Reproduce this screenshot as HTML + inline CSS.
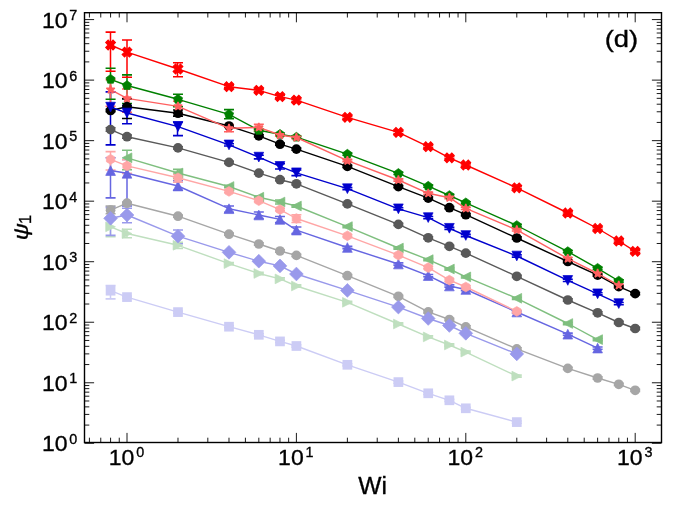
<!DOCTYPE html>
<html><head><meta charset="utf-8"><title>chart</title>
<style>html,body{margin:0;padding:0;background:#fff;}body{width:673px;height:511px;position:relative;overflow:hidden;font-family:"Liberation Sans",sans-serif;}</style></head>
<body>
<svg width="673" height="511" viewBox="0 0 673 511" style="position:absolute;left:0;top:0;will-change:transform;transform:translateZ(0)">
<rect width="673" height="511" fill="#fff"/>
<g>
<path d="M127.00 98.90V118.50M177.50 110.00V116.10M110.50 109.40V111.60M228.50 124.90V127.10M258.50 134.70V136.90M279.50 143.10V145.30M296.50 148.00V150.20M347.50 165.30V167.50M398.50 185.50V187.70M428.50 197.00V199.20M449.50 206.60V208.80M465.50 213.60V215.80M516.50 236.90V239.10M567.50 260.40V262.60M597.50 274.00V276.20M618.50 285.50V287.70M635.50 292.50V294.70" stroke="#000000" stroke-width="1.5" fill="none"/>
<path d="M110.50 127.80V131.30M127.00 135.00V138.30M177.50 146.80V149.00M228.50 161.30V163.50M258.50 172.00V174.20M279.50 178.60V180.80M296.50 182.70V184.90M347.50 202.80V205.00M398.50 223.30V225.50M428.50 236.70V238.90M449.50 245.20V247.40M465.50 252.00V254.20M516.50 275.20V277.40M567.50 298.90V301.10M597.50 311.70V313.90M618.50 321.40V323.60M635.50 327.40V329.60" stroke="#595959" stroke-width="1.5" fill="none"/>
<path d="M110.50 206.10V213.70M127.00 202.10V204.30M177.50 215.10V217.30M228.50 233.10V235.30M258.50 242.90V245.10M279.50 249.90V252.10M296.50 254.30V256.50M347.50 274.60V276.80M398.50 295.20V297.40M428.50 310.80V313.00M449.50 318.40V320.60M465.50 325.80V328.00M516.50 347.80V350.00M567.50 367.30V369.50M597.50 376.90V379.10M618.50 383.20V385.40M635.50 389.20V391.40" stroke="#a6a6a6" stroke-width="1.5" fill="none"/>
<path d="M110.50 68.20V99.20M127.00 74.90V103.50M177.50 94.30V106.80M228.50 109.60V118.80M258.50 129.20V131.40M279.50 133.20V135.40M296.50 136.10V138.30M347.50 153.10V155.30M398.50 172.30V174.50M428.50 185.10V187.30M449.50 194.40V196.60M465.50 201.70V203.90M516.50 224.40V226.60M567.50 250.50V252.70M597.50 267.20V269.40M618.50 279.90V282.10" stroke="#008000" stroke-width="1.5" fill="none"/>
<path d="M127.00 150.20V169.80M177.50 169.40V178.30M279.50 200.00V204.00M228.50 185.40V187.60M258.50 196.10V198.30M296.50 204.90V207.10M347.50 225.50V227.70M398.50 246.90V249.10M428.50 258.50V260.70M449.50 267.90V270.10M465.50 275.80V278.00M516.50 297.20V299.40M567.50 322.40V324.60M597.50 338.50V340.70" stroke="#7fbf7f" stroke-width="1.5" fill="none"/>
<path d="M110.50 219.60V236.70M127.00 229.25V237.80M177.50 242.20V248.50M228.50 262.50V264.70M258.50 272.40V274.60M279.50 277.80V280.00M296.50 284.90V287.10M347.50 301.20V303.40M398.50 322.90V325.10M428.50 335.80V338.00M449.50 343.90V346.10M465.50 351.00V353.20M516.50 375.00V377.20" stroke="#bfdfbf" stroke-width="1.5" fill="none"/>
<path d="M110.50 91.90V144.90M127.00 105.60V123.80M177.50 122.00V135.60M258.50 155.30V158.90M279.50 163.80V169.00M296.50 170.00V175.60M228.50 143.80V146.00M347.50 187.60V189.80M398.50 207.70V209.90M428.50 216.50V218.70M449.50 227.20V229.40M465.50 234.40V236.60M516.50 254.90V257.10M567.50 279.30V281.50M597.50 292.70V294.90M618.50 302.50V304.70" stroke="#0000cd" stroke-width="1.5" fill="none"/>
<path d="M110.50 157.75V197.90M127.00 159.50V206.00M177.50 180.70V190.30M228.50 206.00V212.30M258.50 212.00V218.50M279.50 216.50V222.50M296.50 227.00V233.50M347.50 246.40V248.60M398.50 262.90V265.10M428.50 274.50V276.70M449.50 284.90V287.10M465.50 288.40V290.60M516.50 310.90V313.10M567.50 333.10V335.30M597.50 347.00V349.20" stroke="#6666e1" stroke-width="1.5" fill="none"/>
<path d="M110.50 207.60V235.40M127.00 208.20V222.80M177.50 230.00V243.70M228.50 251.20V253.40M258.50 260.10V262.30M279.50 264.80V267.00M296.50 272.90V275.10M347.50 289.30V291.50M398.50 306.00V308.20M428.50 317.40V319.60M449.50 324.40V326.60M465.50 332.20V334.40M516.50 352.80V355.00" stroke="#9999eb" stroke-width="1.5" fill="none"/>
<path d="M110.50 285.50V298.90M127.00 296.00V298.20M177.50 311.00V313.20M228.50 325.60V327.80M258.50 333.70V335.90M279.50 340.30V342.50M296.50 344.90V347.10M347.50 363.70V365.90M398.50 381.00V383.20M428.50 392.20V394.40M449.50 399.20V401.40M465.50 407.20V409.40M516.50 421.00V423.20" stroke="#ccccf5" stroke-width="1.5" fill="none"/>
<path d="M110.50 32.10V71.20M127.00 40.00V77.30M177.50 62.80V76.70M228.50 85.60V87.80M258.50 89.20V91.40M279.50 95.50V97.70M296.50 99.00V101.20M347.50 116.20V118.40M398.50 131.30V133.50M428.50 145.60V147.80M449.50 156.70V158.90M465.50 163.90V166.10M516.50 186.70V188.90M567.50 211.90V214.10M597.50 227.40V229.60M618.50 239.90V242.10M635.50 250.20V252.40" stroke="#ff0000" stroke-width="1.5" fill="none"/>
<path d="M110.50 79.70V106.30M127.00 89.00V112.20M177.50 101.20V113.00M228.50 124.60V131.80M258.50 124.20V130.60M279.50 133.90V136.10M296.50 136.40V138.60M347.50 159.60V161.80M398.50 178.90V181.10M428.50 192.20V194.40M449.50 196.60V198.80M465.50 207.30V209.50M516.50 228.80V231.00M567.50 257.50V259.70M597.50 272.40V274.60M618.50 284.20V286.40" stroke="#ff6060" stroke-width="1.5" fill="none"/>
<path d="M110.50 151.60V170.00M127.00 159.80V173.40M177.50 174.30V182.30M296.50 214.70V222.50M228.50 190.30V192.50M258.50 199.60V201.80M279.50 208.50V210.70M347.50 234.70V236.90M398.50 254.00V256.20M428.50 266.50V268.70M449.50 279.00V281.20M465.50 285.90V288.10M516.50 310.30V312.50" stroke="#ffa6a6" stroke-width="1.5" fill="none"/>
<path d="M122.00 98.90h10.00M122.00 118.50h10.00M172.99 110.00h10.00M172.99 116.10h10.00M105.58 109.40h10.00M105.58 111.60h10.00M223.99 124.90h10.00M223.99 127.10h10.00M253.82 134.70h10.00M253.82 136.90h10.00M274.98 143.10h10.00M274.98 145.30h10.00M291.40 148.00h10.00M291.40 150.20h10.00M342.39 165.30h10.00M342.39 167.50h10.00M393.39 185.50h10.00M393.39 187.70h10.00M423.22 197.00h10.00M423.22 199.20h10.00M444.38 206.60h10.00M444.38 208.80h10.00M460.80 213.60h10.00M460.80 215.80h10.00M511.79 236.90h10.00M511.79 239.10h10.00M562.79 260.40h10.00M562.79 262.60h10.00M592.62 274.00h10.00M592.62 276.20h10.00M613.78 285.50h10.00M613.78 287.70h10.00M630.20 292.50h10.00M630.20 294.70h10.00" stroke="#000000" stroke-width="1.6" fill="none"/>
<path d="M105.58 127.80h10.00M105.58 131.30h10.00M122.00 135.00h10.00M122.00 138.30h10.00M172.99 146.80h10.00M172.99 149.00h10.00M223.99 161.30h10.00M223.99 163.50h10.00M253.82 172.00h10.00M253.82 174.20h10.00M274.98 178.60h10.00M274.98 180.80h10.00M291.40 182.70h10.00M291.40 184.90h10.00M342.39 202.80h10.00M342.39 205.00h10.00M393.39 223.30h10.00M393.39 225.50h10.00M423.22 236.70h10.00M423.22 238.90h10.00M444.38 245.20h10.00M444.38 247.40h10.00M460.80 252.00h10.00M460.80 254.20h10.00M511.79 275.20h10.00M511.79 277.40h10.00M562.79 298.90h10.00M562.79 301.10h10.00M592.62 311.70h10.00M592.62 313.90h10.00M613.78 321.40h10.00M613.78 323.60h10.00M630.20 327.40h10.00M630.20 329.60h10.00" stroke="#595959" stroke-width="1.6" fill="none"/>
<path d="M105.58 206.10h10.00M105.58 213.70h10.00M122.00 202.10h10.00M122.00 204.30h10.00M172.99 215.10h10.00M172.99 217.30h10.00M223.99 233.10h10.00M223.99 235.30h10.00M253.82 242.90h10.00M253.82 245.10h10.00M274.98 249.90h10.00M274.98 252.10h10.00M291.40 254.30h10.00M291.40 256.50h10.00M342.39 274.60h10.00M342.39 276.80h10.00M393.39 295.20h10.00M393.39 297.40h10.00M423.22 310.80h10.00M423.22 313.00h10.00M444.38 318.40h10.00M444.38 320.60h10.00M460.80 325.80h10.00M460.80 328.00h10.00M511.79 347.80h10.00M511.79 350.00h10.00M562.79 367.30h10.00M562.79 369.50h10.00M592.62 376.90h10.00M592.62 379.10h10.00M613.78 383.20h10.00M613.78 385.40h10.00M630.20 389.20h10.00M630.20 391.40h10.00" stroke="#a6a6a6" stroke-width="1.6" fill="none"/>
<path d="M105.58 68.20h10.00M105.58 99.20h10.00M122.00 74.90h10.00M122.00 103.50h10.00M172.99 94.30h10.00M172.99 106.80h10.00M223.99 109.60h10.00M223.99 118.80h10.00M253.82 129.20h10.00M253.82 131.40h10.00M274.98 133.20h10.00M274.98 135.40h10.00M291.40 136.10h10.00M291.40 138.30h10.00M342.39 153.10h10.00M342.39 155.30h10.00M393.39 172.30h10.00M393.39 174.50h10.00M423.22 185.10h10.00M423.22 187.30h10.00M444.38 194.40h10.00M444.38 196.60h10.00M460.80 201.70h10.00M460.80 203.90h10.00M511.79 224.40h10.00M511.79 226.60h10.00M562.79 250.50h10.00M562.79 252.70h10.00M592.62 267.20h10.00M592.62 269.40h10.00M613.78 279.90h10.00M613.78 282.10h10.00" stroke="#008000" stroke-width="1.6" fill="none"/>
<path d="M122.00 150.20h10.00M122.00 169.80h10.00M172.99 169.40h10.00M172.99 178.30h10.00M274.98 200.00h10.00M274.98 204.00h10.00M223.99 185.40h10.00M223.99 187.60h10.00M253.82 196.10h10.00M253.82 198.30h10.00M291.40 204.90h10.00M291.40 207.10h10.00M342.39 225.50h10.00M342.39 227.70h10.00M393.39 246.90h10.00M393.39 249.10h10.00M423.22 258.50h10.00M423.22 260.70h10.00M444.38 267.90h10.00M444.38 270.10h10.00M460.80 275.80h10.00M460.80 278.00h10.00M511.79 297.20h10.00M511.79 299.40h10.00M562.79 322.40h10.00M562.79 324.60h10.00M592.62 338.50h10.00M592.62 340.70h10.00" stroke="#7fbf7f" stroke-width="1.6" fill="none"/>
<path d="M105.58 219.60h10.00M105.58 236.70h10.00M122.00 229.25h10.00M122.00 237.80h10.00M172.99 242.20h10.00M172.99 248.50h10.00M223.99 262.50h10.00M223.99 264.70h10.00M253.82 272.40h10.00M253.82 274.60h10.00M274.98 277.80h10.00M274.98 280.00h10.00M291.40 284.90h10.00M291.40 287.10h10.00M342.39 301.20h10.00M342.39 303.40h10.00M393.39 322.90h10.00M393.39 325.10h10.00M423.22 335.80h10.00M423.22 338.00h10.00M444.38 343.90h10.00M444.38 346.10h10.00M460.80 351.00h10.00M460.80 353.20h10.00M511.79 375.00h10.00M511.79 377.20h10.00" stroke="#bfdfbf" stroke-width="1.6" fill="none"/>
<path d="M105.58 91.90h10.00M105.58 144.90h10.00M122.00 105.60h10.00M122.00 123.80h10.00M172.99 122.00h10.00M172.99 135.60h10.00M253.82 155.30h10.00M253.82 158.90h10.00M274.98 163.80h10.00M274.98 169.00h10.00M291.40 170.00h10.00M291.40 175.60h10.00M223.99 143.80h10.00M223.99 146.00h10.00M342.39 187.60h10.00M342.39 189.80h10.00M393.39 207.70h10.00M393.39 209.90h10.00M423.22 216.50h10.00M423.22 218.70h10.00M444.38 227.20h10.00M444.38 229.40h10.00M460.80 234.40h10.00M460.80 236.60h10.00M511.79 254.90h10.00M511.79 257.10h10.00M562.79 279.30h10.00M562.79 281.50h10.00M592.62 292.70h10.00M592.62 294.90h10.00M613.78 302.50h10.00M613.78 304.70h10.00" stroke="#0000cd" stroke-width="1.6" fill="none"/>
<path d="M105.58 157.75h10.00M105.58 197.90h10.00M122.00 159.50h10.00M122.00 206.00h10.00M172.99 180.70h10.00M172.99 190.30h10.00M223.99 206.00h10.00M223.99 212.30h10.00M253.82 212.00h10.00M253.82 218.50h10.00M274.98 216.50h10.00M274.98 222.50h10.00M291.40 227.00h10.00M291.40 233.50h10.00M342.39 246.40h10.00M342.39 248.60h10.00M393.39 262.90h10.00M393.39 265.10h10.00M423.22 274.50h10.00M423.22 276.70h10.00M444.38 284.90h10.00M444.38 287.10h10.00M460.80 288.40h10.00M460.80 290.60h10.00M511.79 310.90h10.00M511.79 313.10h10.00M562.79 333.10h10.00M562.79 335.30h10.00M592.62 347.00h10.00M592.62 349.20h10.00" stroke="#6666e1" stroke-width="1.6" fill="none"/>
<path d="M105.58 207.60h10.00M105.58 235.40h10.00M122.00 208.20h10.00M122.00 222.80h10.00M172.99 230.00h10.00M172.99 243.70h10.00M223.99 251.20h10.00M223.99 253.40h10.00M253.82 260.10h10.00M253.82 262.30h10.00M274.98 264.80h10.00M274.98 267.00h10.00M291.40 272.90h10.00M291.40 275.10h10.00M342.39 289.30h10.00M342.39 291.50h10.00M393.39 306.00h10.00M393.39 308.20h10.00M423.22 317.40h10.00M423.22 319.60h10.00M444.38 324.40h10.00M444.38 326.60h10.00M460.80 332.20h10.00M460.80 334.40h10.00M511.79 352.80h10.00M511.79 355.00h10.00" stroke="#9999eb" stroke-width="1.6" fill="none"/>
<path d="M105.58 285.50h10.00M105.58 298.90h10.00M122.00 296.00h10.00M122.00 298.20h10.00M172.99 311.00h10.00M172.99 313.20h10.00M223.99 325.60h10.00M223.99 327.80h10.00M253.82 333.70h10.00M253.82 335.90h10.00M274.98 340.30h10.00M274.98 342.50h10.00M291.40 344.90h10.00M291.40 347.10h10.00M342.39 363.70h10.00M342.39 365.90h10.00M393.39 381.00h10.00M393.39 383.20h10.00M423.22 392.20h10.00M423.22 394.40h10.00M444.38 399.20h10.00M444.38 401.40h10.00M460.80 407.20h10.00M460.80 409.40h10.00M511.79 421.00h10.00M511.79 423.20h10.00" stroke="#ccccf5" stroke-width="1.6" fill="none"/>
<path d="M105.58 32.10h10.00M105.58 71.20h10.00M122.00 40.00h10.00M122.00 77.30h10.00M172.99 62.80h10.00M172.99 76.70h10.00M223.99 85.60h10.00M223.99 87.80h10.00M253.82 89.20h10.00M253.82 91.40h10.00M274.98 95.50h10.00M274.98 97.70h10.00M291.40 99.00h10.00M291.40 101.20h10.00M342.39 116.20h10.00M342.39 118.40h10.00M393.39 131.30h10.00M393.39 133.50h10.00M423.22 145.60h10.00M423.22 147.80h10.00M444.38 156.70h10.00M444.38 158.90h10.00M460.80 163.90h10.00M460.80 166.10h10.00M511.79 186.70h10.00M511.79 188.90h10.00M562.79 211.90h10.00M562.79 214.10h10.00M592.62 227.40h10.00M592.62 229.60h10.00M613.78 239.90h10.00M613.78 242.10h10.00M630.20 250.20h10.00M630.20 252.40h10.00" stroke="#ff0000" stroke-width="1.6" fill="none"/>
<path d="M105.58 79.70h10.00M105.58 106.30h10.00M122.00 89.00h10.00M122.00 112.20h10.00M172.99 101.20h10.00M172.99 113.00h10.00M223.99 124.60h10.00M223.99 131.80h10.00M253.82 124.20h10.00M253.82 130.60h10.00M274.98 133.90h10.00M274.98 136.10h10.00M291.40 136.40h10.00M291.40 138.60h10.00M342.39 159.60h10.00M342.39 161.80h10.00M393.39 178.90h10.00M393.39 181.10h10.00M423.22 192.20h10.00M423.22 194.40h10.00M444.38 196.60h10.00M444.38 198.80h10.00M460.80 207.30h10.00M460.80 209.50h10.00M511.79 228.80h10.00M511.79 231.00h10.00M562.79 257.50h10.00M562.79 259.70h10.00M592.62 272.40h10.00M592.62 274.60h10.00M613.78 284.20h10.00M613.78 286.40h10.00" stroke="#ff6060" stroke-width="1.6" fill="none"/>
<path d="M105.58 151.60h10.00M105.58 170.00h10.00M122.00 159.80h10.00M122.00 173.40h10.00M172.99 174.30h10.00M172.99 182.30h10.00M291.40 214.70h10.00M291.40 222.50h10.00M223.99 190.30h10.00M223.99 192.50h10.00M253.82 199.60h10.00M253.82 201.80h10.00M274.98 208.50h10.00M274.98 210.70h10.00M342.39 234.70h10.00M342.39 236.90h10.00M393.39 254.00h10.00M393.39 256.20h10.00M423.22 266.50h10.00M423.22 268.70h10.00M444.38 279.00h10.00M444.38 281.20h10.00M460.80 285.90h10.00M460.80 288.10h10.00M511.79 310.30h10.00M511.79 312.50h10.00" stroke="#ffa6a6" stroke-width="1.6" fill="none"/>
<g><polyline fill="none" stroke="#000000" stroke-width="1.4" stroke-linejoin="round" points="110.58,110.50 127.00,106.70 177.99,113.20 228.99,126.00 258.82,135.80 279.98,144.20 296.40,149.10 347.39,166.40 398.39,186.60 428.22,198.10 449.38,207.70 465.80,214.70 516.79,238.00 567.79,261.50 597.62,275.10 618.78,286.60 635.20,293.60"/><circle cx="110.58" cy="110.50" r="4.85" fill="#000000"/><circle cx="127.00" cy="106.70" r="4.85" fill="#000000"/><circle cx="177.99" cy="113.20" r="4.85" fill="#000000"/><circle cx="228.99" cy="126.00" r="4.85" fill="#000000"/><circle cx="258.82" cy="135.80" r="4.85" fill="#000000"/><circle cx="279.98" cy="144.20" r="4.85" fill="#000000"/><circle cx="296.40" cy="149.10" r="4.85" fill="#000000"/><circle cx="347.39" cy="166.40" r="4.85" fill="#000000"/><circle cx="398.39" cy="186.60" r="4.85" fill="#000000"/><circle cx="428.22" cy="198.10" r="4.85" fill="#000000"/><circle cx="449.38" cy="207.70" r="4.85" fill="#000000"/><circle cx="465.80" cy="214.70" r="4.85" fill="#000000"/><circle cx="516.79" cy="238.00" r="4.85" fill="#000000"/><circle cx="567.79" cy="261.50" r="4.85" fill="#000000"/><circle cx="597.62" cy="275.10" r="4.85" fill="#000000"/><circle cx="618.78" cy="286.60" r="4.85" fill="#000000"/><circle cx="635.20" cy="293.60" r="4.85" fill="#000000"/></g>
<g><polyline fill="none" stroke="#595959" stroke-width="1.4" stroke-linejoin="round" points="110.58,129.60 127.00,136.70 177.99,147.90 228.99,162.40 258.82,173.10 279.98,179.70 296.40,183.80 347.39,203.90 398.39,224.40 428.22,237.80 449.38,246.30 465.80,253.10 516.79,276.30 567.79,300.00 597.62,312.80 618.78,322.50 635.20,328.50"/><circle cx="110.58" cy="129.60" r="4.85" fill="#595959"/><circle cx="127.00" cy="136.70" r="4.85" fill="#595959"/><circle cx="177.99" cy="147.90" r="4.85" fill="#595959"/><circle cx="228.99" cy="162.40" r="4.85" fill="#595959"/><circle cx="258.82" cy="173.10" r="4.85" fill="#595959"/><circle cx="279.98" cy="179.70" r="4.85" fill="#595959"/><circle cx="296.40" cy="183.80" r="4.85" fill="#595959"/><circle cx="347.39" cy="203.90" r="4.85" fill="#595959"/><circle cx="398.39" cy="224.40" r="4.85" fill="#595959"/><circle cx="428.22" cy="237.80" r="4.85" fill="#595959"/><circle cx="449.38" cy="246.30" r="4.85" fill="#595959"/><circle cx="465.80" cy="253.10" r="4.85" fill="#595959"/><circle cx="516.79" cy="276.30" r="4.85" fill="#595959"/><circle cx="567.79" cy="300.00" r="4.85" fill="#595959"/><circle cx="597.62" cy="312.80" r="4.85" fill="#595959"/><circle cx="618.78" cy="322.50" r="4.85" fill="#595959"/><circle cx="635.20" cy="328.50" r="4.85" fill="#595959"/></g>
<g><polyline fill="none" stroke="#a6a6a6" stroke-width="1.4" stroke-linejoin="round" points="110.58,210.20 127.00,203.20 177.99,216.20 228.99,234.20 258.82,244.00 279.98,251.00 296.40,255.40 347.39,275.70 398.39,296.30 428.22,311.90 449.38,319.50 465.80,326.90 516.79,348.90 567.79,368.40 597.62,378.00 618.78,384.30 635.20,390.30"/><circle cx="110.58" cy="210.20" r="4.85" fill="#a6a6a6"/><circle cx="127.00" cy="203.20" r="4.85" fill="#a6a6a6"/><circle cx="177.99" cy="216.20" r="4.85" fill="#a6a6a6"/><circle cx="228.99" cy="234.20" r="4.85" fill="#a6a6a6"/><circle cx="258.82" cy="244.00" r="4.85" fill="#a6a6a6"/><circle cx="279.98" cy="251.00" r="4.85" fill="#a6a6a6"/><circle cx="296.40" cy="255.40" r="4.85" fill="#a6a6a6"/><circle cx="347.39" cy="275.70" r="4.85" fill="#a6a6a6"/><circle cx="398.39" cy="296.30" r="4.85" fill="#a6a6a6"/><circle cx="428.22" cy="311.90" r="4.85" fill="#a6a6a6"/><circle cx="449.38" cy="319.50" r="4.85" fill="#a6a6a6"/><circle cx="465.80" cy="326.90" r="4.85" fill="#a6a6a6"/><circle cx="516.79" cy="348.90" r="4.85" fill="#a6a6a6"/><circle cx="567.79" cy="368.40" r="4.85" fill="#a6a6a6"/><circle cx="597.62" cy="378.00" r="4.85" fill="#a6a6a6"/><circle cx="618.78" cy="384.30" r="4.85" fill="#a6a6a6"/><circle cx="635.20" cy="390.30" r="4.85" fill="#a6a6a6"/></g>
<g><polyline fill="none" stroke="#008000" stroke-width="1.4" stroke-linejoin="round" points="110.58,79.30 127.00,85.50 177.99,99.30 228.99,114.40 258.82,130.30 279.98,134.30 296.40,137.20 347.39,154.20 398.39,173.40 428.22,186.20 449.38,195.50 465.80,202.80 516.79,225.50 567.79,251.60 597.62,268.30 618.78,281.00"/><polygon points="110.58,74.45 115.20,77.80 113.43,83.22 107.73,83.22 105.97,77.80" fill="#008000" stroke="#008000" stroke-width="0.7" stroke-linejoin="miter"/><polygon points="127.00,80.65 131.61,84.00 129.85,89.42 124.15,89.42 122.39,84.00" fill="#008000" stroke="#008000" stroke-width="0.7" stroke-linejoin="miter"/><polygon points="177.99,94.45 182.61,97.80 180.85,103.22 175.14,103.22 173.38,97.80" fill="#008000" stroke="#008000" stroke-width="0.7" stroke-linejoin="miter"/><polygon points="228.99,109.55 233.60,112.90 231.84,118.32 226.14,118.32 224.38,112.90" fill="#008000" stroke="#008000" stroke-width="0.7" stroke-linejoin="miter"/><polygon points="258.82,125.45 263.43,128.80 261.67,134.22 255.97,134.22 254.21,128.80" fill="#008000" stroke="#008000" stroke-width="0.7" stroke-linejoin="miter"/><polygon points="279.98,129.45 284.60,132.80 282.83,138.22 277.13,138.22 275.37,132.80" fill="#008000" stroke="#008000" stroke-width="0.7" stroke-linejoin="miter"/><polygon points="296.40,132.35 301.01,135.70 299.25,141.12 293.55,141.12 291.79,135.70" fill="#008000" stroke="#008000" stroke-width="0.7" stroke-linejoin="miter"/><polygon points="347.39,149.35 352.01,152.70 350.25,158.12 344.54,158.12 342.78,152.70" fill="#008000" stroke="#008000" stroke-width="0.7" stroke-linejoin="miter"/><polygon points="398.39,168.55 403.00,171.90 401.24,177.32 395.54,177.32 393.78,171.90" fill="#008000" stroke="#008000" stroke-width="0.7" stroke-linejoin="miter"/><polygon points="428.22,181.35 432.83,184.70 431.07,190.12 425.37,190.12 423.61,184.70" fill="#008000" stroke="#008000" stroke-width="0.7" stroke-linejoin="miter"/><polygon points="449.38,190.65 454.00,194.00 452.23,199.42 446.53,199.42 444.77,194.00" fill="#008000" stroke="#008000" stroke-width="0.7" stroke-linejoin="miter"/><polygon points="465.80,197.95 470.41,201.30 468.65,206.72 462.95,206.72 461.19,201.30" fill="#008000" stroke="#008000" stroke-width="0.7" stroke-linejoin="miter"/><polygon points="516.79,220.65 521.41,224.00 519.65,229.42 513.94,229.42 512.18,224.00" fill="#008000" stroke="#008000" stroke-width="0.7" stroke-linejoin="miter"/><polygon points="567.79,246.75 572.40,250.10 570.64,255.52 564.94,255.52 563.18,250.10" fill="#008000" stroke="#008000" stroke-width="0.7" stroke-linejoin="miter"/><polygon points="597.62,263.45 602.23,266.80 600.47,272.22 594.77,272.22 593.01,266.80" fill="#008000" stroke="#008000" stroke-width="0.7" stroke-linejoin="miter"/><polygon points="618.78,276.15 623.40,279.50 621.63,284.92 615.93,284.92 614.17,279.50" fill="#008000" stroke="#008000" stroke-width="0.7" stroke-linejoin="miter"/></g>
<g><polyline fill="none" stroke="#7fbf7f" stroke-width="1.4" stroke-linejoin="round" points="127.00,157.80 177.99,173.00 228.99,186.50 258.82,197.20 279.98,202.00 296.40,206.00 347.39,226.60 398.39,248.00 428.22,259.60 449.38,269.00 465.80,276.90 516.79,298.30 567.79,323.50 597.62,339.60"/><polygon points="122.15,157.80 131.85,152.95 131.85,162.65" fill="#7fbf7f" stroke="#7fbf7f" stroke-width="0.7" stroke-linejoin="miter"/><polygon points="173.14,173.00 182.84,168.15 182.84,177.85" fill="#7fbf7f" stroke="#7fbf7f" stroke-width="0.7" stroke-linejoin="miter"/><polygon points="224.14,186.50 233.84,181.65 233.84,191.35" fill="#7fbf7f" stroke="#7fbf7f" stroke-width="0.7" stroke-linejoin="miter"/><polygon points="253.97,197.20 263.67,192.35 263.67,202.05" fill="#7fbf7f" stroke="#7fbf7f" stroke-width="0.7" stroke-linejoin="miter"/><polygon points="275.13,202.00 284.83,197.15 284.83,206.85" fill="#7fbf7f" stroke="#7fbf7f" stroke-width="0.7" stroke-linejoin="miter"/><polygon points="291.55,206.00 301.25,201.15 301.25,210.85" fill="#7fbf7f" stroke="#7fbf7f" stroke-width="0.7" stroke-linejoin="miter"/><polygon points="342.54,226.60 352.24,221.75 352.24,231.45" fill="#7fbf7f" stroke="#7fbf7f" stroke-width="0.7" stroke-linejoin="miter"/><polygon points="393.54,248.00 403.24,243.15 403.24,252.85" fill="#7fbf7f" stroke="#7fbf7f" stroke-width="0.7" stroke-linejoin="miter"/><polygon points="423.37,259.60 433.07,254.75 433.07,264.45" fill="#7fbf7f" stroke="#7fbf7f" stroke-width="0.7" stroke-linejoin="miter"/><polygon points="444.53,269.00 454.23,264.15 454.23,273.85" fill="#7fbf7f" stroke="#7fbf7f" stroke-width="0.7" stroke-linejoin="miter"/><polygon points="460.95,276.90 470.65,272.05 470.65,281.75" fill="#7fbf7f" stroke="#7fbf7f" stroke-width="0.7" stroke-linejoin="miter"/><polygon points="511.94,298.30 521.64,293.45 521.64,303.15" fill="#7fbf7f" stroke="#7fbf7f" stroke-width="0.7" stroke-linejoin="miter"/><polygon points="562.94,323.50 572.64,318.65 572.64,328.35" fill="#7fbf7f" stroke="#7fbf7f" stroke-width="0.7" stroke-linejoin="miter"/><polygon points="592.77,339.60 602.47,334.75 602.47,344.45" fill="#7fbf7f" stroke="#7fbf7f" stroke-width="0.7" stroke-linejoin="miter"/></g>
<g><polyline fill="none" stroke="#bfdfbf" stroke-width="1.4" stroke-linejoin="round" points="110.58,226.80 127.00,233.50 177.99,245.30 228.99,263.60 258.82,273.50 279.98,278.90 296.40,286.00 347.39,302.30 398.39,324.00 428.22,336.90 449.38,345.00 465.80,352.10 516.79,376.10"/><polygon points="115.43,226.80 105.73,221.95 105.73,231.65" fill="#bfdfbf" stroke="#bfdfbf" stroke-width="0.7" stroke-linejoin="miter"/><polygon points="131.85,233.50 122.15,228.65 122.15,238.35" fill="#bfdfbf" stroke="#bfdfbf" stroke-width="0.7" stroke-linejoin="miter"/><polygon points="182.84,245.30 173.14,240.45 173.14,250.15" fill="#bfdfbf" stroke="#bfdfbf" stroke-width="0.7" stroke-linejoin="miter"/><polygon points="233.84,263.60 224.14,258.75 224.14,268.45" fill="#bfdfbf" stroke="#bfdfbf" stroke-width="0.7" stroke-linejoin="miter"/><polygon points="263.67,273.50 253.97,268.65 253.97,278.35" fill="#bfdfbf" stroke="#bfdfbf" stroke-width="0.7" stroke-linejoin="miter"/><polygon points="284.83,278.90 275.13,274.05 275.13,283.75" fill="#bfdfbf" stroke="#bfdfbf" stroke-width="0.7" stroke-linejoin="miter"/><polygon points="301.25,286.00 291.55,281.15 291.55,290.85" fill="#bfdfbf" stroke="#bfdfbf" stroke-width="0.7" stroke-linejoin="miter"/><polygon points="352.24,302.30 342.54,297.45 342.54,307.15" fill="#bfdfbf" stroke="#bfdfbf" stroke-width="0.7" stroke-linejoin="miter"/><polygon points="403.24,324.00 393.54,319.15 393.54,328.85" fill="#bfdfbf" stroke="#bfdfbf" stroke-width="0.7" stroke-linejoin="miter"/><polygon points="433.07,336.90 423.37,332.05 423.37,341.75" fill="#bfdfbf" stroke="#bfdfbf" stroke-width="0.7" stroke-linejoin="miter"/><polygon points="454.23,345.00 444.53,340.15 444.53,349.85" fill="#bfdfbf" stroke="#bfdfbf" stroke-width="0.7" stroke-linejoin="miter"/><polygon points="470.65,352.10 460.95,347.25 460.95,356.95" fill="#bfdfbf" stroke="#bfdfbf" stroke-width="0.7" stroke-linejoin="miter"/><polygon points="521.64,376.10 511.94,371.25 511.94,380.95" fill="#bfdfbf" stroke="#bfdfbf" stroke-width="0.7" stroke-linejoin="miter"/></g>
<g><polyline fill="none" stroke="#0000cd" stroke-width="1.4" stroke-linejoin="round" points="110.58,107.10 127.00,113.00 177.99,126.60 228.99,144.90 258.82,157.10 279.98,166.40 296.40,172.80 347.39,188.70 398.39,208.80 428.22,217.60 449.38,228.30 465.80,235.50 516.79,256.00 567.79,280.40 597.62,293.80 618.78,303.60"/><polygon points="110.58,111.95 105.73,102.25 115.43,102.25" fill="#0000cd" stroke="#0000cd" stroke-width="0.7" stroke-linejoin="miter"/><polygon points="127.00,117.85 122.15,108.15 131.85,108.15" fill="#0000cd" stroke="#0000cd" stroke-width="0.7" stroke-linejoin="miter"/><polygon points="177.99,131.45 173.14,121.75 182.84,121.75" fill="#0000cd" stroke="#0000cd" stroke-width="0.7" stroke-linejoin="miter"/><polygon points="228.99,149.75 224.14,140.05 233.84,140.05" fill="#0000cd" stroke="#0000cd" stroke-width="0.7" stroke-linejoin="miter"/><polygon points="258.82,161.95 253.97,152.25 263.67,152.25" fill="#0000cd" stroke="#0000cd" stroke-width="0.7" stroke-linejoin="miter"/><polygon points="279.98,171.25 275.13,161.55 284.83,161.55" fill="#0000cd" stroke="#0000cd" stroke-width="0.7" stroke-linejoin="miter"/><polygon points="296.40,177.65 291.55,167.95 301.25,167.95" fill="#0000cd" stroke="#0000cd" stroke-width="0.7" stroke-linejoin="miter"/><polygon points="347.39,193.55 342.54,183.85 352.24,183.85" fill="#0000cd" stroke="#0000cd" stroke-width="0.7" stroke-linejoin="miter"/><polygon points="398.39,213.65 393.54,203.95 403.24,203.95" fill="#0000cd" stroke="#0000cd" stroke-width="0.7" stroke-linejoin="miter"/><polygon points="428.22,222.45 423.37,212.75 433.07,212.75" fill="#0000cd" stroke="#0000cd" stroke-width="0.7" stroke-linejoin="miter"/><polygon points="449.38,233.15 444.53,223.45 454.23,223.45" fill="#0000cd" stroke="#0000cd" stroke-width="0.7" stroke-linejoin="miter"/><polygon points="465.80,240.35 460.95,230.65 470.65,230.65" fill="#0000cd" stroke="#0000cd" stroke-width="0.7" stroke-linejoin="miter"/><polygon points="516.79,260.85 511.94,251.15 521.64,251.15" fill="#0000cd" stroke="#0000cd" stroke-width="0.7" stroke-linejoin="miter"/><polygon points="567.79,285.25 562.94,275.55 572.64,275.55" fill="#0000cd" stroke="#0000cd" stroke-width="0.7" stroke-linejoin="miter"/><polygon points="597.62,298.65 592.77,288.95 602.47,288.95" fill="#0000cd" stroke="#0000cd" stroke-width="0.7" stroke-linejoin="miter"/><polygon points="618.78,308.45 613.93,298.75 623.63,298.75" fill="#0000cd" stroke="#0000cd" stroke-width="0.7" stroke-linejoin="miter"/></g>
<g><polyline fill="none" stroke="#6666e1" stroke-width="1.4" stroke-linejoin="round" points="110.58,170.55 127.00,173.30 177.99,186.00 228.99,208.70 258.82,215.00 279.98,219.40 296.40,230.10 347.39,247.50 398.39,264.00 428.22,275.60 449.38,286.00 465.80,289.50 516.79,312.00 567.79,334.20 597.62,348.10"/><polygon points="110.58,165.70 105.73,175.40 115.43,175.40" fill="#6666e1" stroke="#6666e1" stroke-width="0.7" stroke-linejoin="miter"/><polygon points="127.00,168.45 122.15,178.15 131.85,178.15" fill="#6666e1" stroke="#6666e1" stroke-width="0.7" stroke-linejoin="miter"/><polygon points="177.99,181.15 173.14,190.85 182.84,190.85" fill="#6666e1" stroke="#6666e1" stroke-width="0.7" stroke-linejoin="miter"/><polygon points="228.99,203.85 224.14,213.55 233.84,213.55" fill="#6666e1" stroke="#6666e1" stroke-width="0.7" stroke-linejoin="miter"/><polygon points="258.82,210.15 253.97,219.85 263.67,219.85" fill="#6666e1" stroke="#6666e1" stroke-width="0.7" stroke-linejoin="miter"/><polygon points="279.98,214.55 275.13,224.25 284.83,224.25" fill="#6666e1" stroke="#6666e1" stroke-width="0.7" stroke-linejoin="miter"/><polygon points="296.40,225.25 291.55,234.95 301.25,234.95" fill="#6666e1" stroke="#6666e1" stroke-width="0.7" stroke-linejoin="miter"/><polygon points="347.39,242.65 342.54,252.35 352.24,252.35" fill="#6666e1" stroke="#6666e1" stroke-width="0.7" stroke-linejoin="miter"/><polygon points="398.39,259.15 393.54,268.85 403.24,268.85" fill="#6666e1" stroke="#6666e1" stroke-width="0.7" stroke-linejoin="miter"/><polygon points="428.22,270.75 423.37,280.45 433.07,280.45" fill="#6666e1" stroke="#6666e1" stroke-width="0.7" stroke-linejoin="miter"/><polygon points="449.38,281.15 444.53,290.85 454.23,290.85" fill="#6666e1" stroke="#6666e1" stroke-width="0.7" stroke-linejoin="miter"/><polygon points="465.80,284.65 460.95,294.35 470.65,294.35" fill="#6666e1" stroke="#6666e1" stroke-width="0.7" stroke-linejoin="miter"/><polygon points="516.79,307.15 511.94,316.85 521.64,316.85" fill="#6666e1" stroke="#6666e1" stroke-width="0.7" stroke-linejoin="miter"/><polygon points="567.79,329.35 562.94,339.05 572.64,339.05" fill="#6666e1" stroke="#6666e1" stroke-width="0.7" stroke-linejoin="miter"/><polygon points="597.62,343.25 592.77,352.95 602.47,352.95" fill="#6666e1" stroke="#6666e1" stroke-width="0.7" stroke-linejoin="miter"/></g>
<g><polyline fill="none" stroke="#9999eb" stroke-width="1.4" stroke-linejoin="round" points="110.58,218.30 127.00,215.00 177.99,236.20 228.99,252.30 258.82,261.20 279.98,265.90 296.40,274.00 347.39,290.40 398.39,307.10 428.22,318.50 449.38,325.50 465.80,333.30 516.79,353.90"/><polygon points="110.58,211.44 117.44,218.30 110.58,225.16 103.72,218.30" fill="#9999eb" stroke="#9999eb" stroke-width="0.7" stroke-linejoin="miter"/><polygon points="127.00,208.14 133.86,215.00 127.00,221.86 120.14,215.00" fill="#9999eb" stroke="#9999eb" stroke-width="0.7" stroke-linejoin="miter"/><polygon points="177.99,229.34 184.85,236.20 177.99,243.06 171.14,236.20" fill="#9999eb" stroke="#9999eb" stroke-width="0.7" stroke-linejoin="miter"/><polygon points="228.99,245.44 235.85,252.30 228.99,259.16 222.13,252.30" fill="#9999eb" stroke="#9999eb" stroke-width="0.7" stroke-linejoin="miter"/><polygon points="258.82,254.34 265.68,261.20 258.82,268.06 251.96,261.20" fill="#9999eb" stroke="#9999eb" stroke-width="0.7" stroke-linejoin="miter"/><polygon points="279.98,259.04 286.84,265.90 279.98,272.76 273.12,265.90" fill="#9999eb" stroke="#9999eb" stroke-width="0.7" stroke-linejoin="miter"/><polygon points="296.40,267.14 303.26,274.00 296.40,280.86 289.54,274.00" fill="#9999eb" stroke="#9999eb" stroke-width="0.7" stroke-linejoin="miter"/><polygon points="347.39,283.54 354.25,290.40 347.39,297.26 340.54,290.40" fill="#9999eb" stroke="#9999eb" stroke-width="0.7" stroke-linejoin="miter"/><polygon points="398.39,300.24 405.25,307.10 398.39,313.96 391.53,307.10" fill="#9999eb" stroke="#9999eb" stroke-width="0.7" stroke-linejoin="miter"/><polygon points="428.22,311.64 435.08,318.50 428.22,325.36 421.36,318.50" fill="#9999eb" stroke="#9999eb" stroke-width="0.7" stroke-linejoin="miter"/><polygon points="449.38,318.64 456.24,325.50 449.38,332.36 442.52,325.50" fill="#9999eb" stroke="#9999eb" stroke-width="0.7" stroke-linejoin="miter"/><polygon points="465.80,326.44 472.66,333.30 465.80,340.16 458.94,333.30" fill="#9999eb" stroke="#9999eb" stroke-width="0.7" stroke-linejoin="miter"/><polygon points="516.79,347.04 523.65,353.90 516.79,360.76 509.94,353.90" fill="#9999eb" stroke="#9999eb" stroke-width="0.7" stroke-linejoin="miter"/></g>
<g><polyline fill="none" stroke="#ccccf5" stroke-width="1.4" stroke-linejoin="round" points="110.58,290.70 127.00,297.10 177.99,312.10 228.99,326.70 258.82,334.80 279.98,341.40 296.40,346.00 347.39,364.80 398.39,382.10 428.22,393.30 449.38,400.30 465.80,408.30 516.79,422.10"/><rect x="105.73" y="285.85" width="9.70" height="9.70" fill="#ccccf5"/><rect x="122.15" y="292.25" width="9.70" height="9.70" fill="#ccccf5"/><rect x="173.14" y="307.25" width="9.70" height="9.70" fill="#ccccf5"/><rect x="224.14" y="321.85" width="9.70" height="9.70" fill="#ccccf5"/><rect x="253.97" y="329.95" width="9.70" height="9.70" fill="#ccccf5"/><rect x="275.13" y="336.55" width="9.70" height="9.70" fill="#ccccf5"/><rect x="291.55" y="341.15" width="9.70" height="9.70" fill="#ccccf5"/><rect x="342.54" y="359.95" width="9.70" height="9.70" fill="#ccccf5"/><rect x="393.54" y="377.25" width="9.70" height="9.70" fill="#ccccf5"/><rect x="423.37" y="388.45" width="9.70" height="9.70" fill="#ccccf5"/><rect x="444.53" y="395.45" width="9.70" height="9.70" fill="#ccccf5"/><rect x="460.95" y="403.45" width="9.70" height="9.70" fill="#ccccf5"/><rect x="511.94" y="417.25" width="9.70" height="9.70" fill="#ccccf5"/></g>
<g><polyline fill="none" stroke="#ff0000" stroke-width="1.4" stroke-linejoin="round" points="110.58,45.00 127.00,52.10 177.99,69.00 228.99,86.70 258.82,90.30 279.98,96.60 296.40,100.10 347.39,117.30 398.39,132.40 428.22,146.70 449.38,157.80 465.80,165.00 516.79,187.80 567.79,213.00 597.62,228.50 618.78,241.00 635.20,251.30"/><polygon points="108.16,49.85 110.58,47.42 113.01,49.85 115.43,47.42 113.01,45.00 115.43,42.58 113.01,40.15 110.58,42.58 108.16,40.15 105.73,42.58 108.16,45.00 105.73,47.42" fill="#ff0000" stroke="#ff0000" stroke-width="1.1" stroke-linejoin="miter"/><polygon points="124.58,56.95 127.00,54.52 129.43,56.95 131.85,54.52 129.43,52.10 131.85,49.68 129.43,47.25 127.00,49.68 124.58,47.25 122.15,49.68 124.58,52.10 122.15,54.52" fill="#ff0000" stroke="#ff0000" stroke-width="1.1" stroke-linejoin="miter"/><polygon points="175.57,73.85 177.99,71.42 180.42,73.85 182.84,71.42 180.42,69.00 182.84,66.58 180.42,64.15 177.99,66.58 175.57,64.15 173.14,66.58 175.57,69.00 173.14,71.42" fill="#ff0000" stroke="#ff0000" stroke-width="1.1" stroke-linejoin="miter"/><polygon points="226.56,91.55 228.99,89.12 231.41,91.55 233.84,89.12 231.41,86.70 233.84,84.28 231.41,81.85 228.99,84.28 226.56,81.85 224.14,84.28 226.56,86.70 224.14,89.12" fill="#ff0000" stroke="#ff0000" stroke-width="1.1" stroke-linejoin="miter"/><polygon points="256.39,95.15 258.82,92.72 261.24,95.15 263.67,92.72 261.24,90.30 263.67,87.88 261.24,85.45 258.82,87.88 256.39,85.45 253.97,87.88 256.39,90.30 253.97,92.72" fill="#ff0000" stroke="#ff0000" stroke-width="1.1" stroke-linejoin="miter"/><polygon points="277.56,101.45 279.98,99.02 282.41,101.45 284.83,99.02 282.41,96.60 284.83,94.17 282.41,91.75 279.98,94.17 277.56,91.75 275.13,94.17 277.56,96.60 275.13,99.02" fill="#ff0000" stroke="#ff0000" stroke-width="1.1" stroke-linejoin="miter"/><polygon points="293.97,104.95 296.40,102.52 298.82,104.95 301.25,102.52 298.82,100.10 301.25,97.67 298.82,95.25 296.40,97.67 293.97,95.25 291.55,97.67 293.97,100.10 291.55,102.52" fill="#ff0000" stroke="#ff0000" stroke-width="1.1" stroke-linejoin="miter"/><polygon points="344.97,122.15 347.39,119.72 349.82,122.15 352.24,119.72 349.82,117.30 352.24,114.88 349.82,112.45 347.39,114.88 344.97,112.45 342.54,114.88 344.97,117.30 342.54,119.72" fill="#ff0000" stroke="#ff0000" stroke-width="1.1" stroke-linejoin="miter"/><polygon points="395.96,137.25 398.39,134.83 400.81,137.25 403.24,134.83 400.81,132.40 403.24,129.97 400.81,127.55 398.39,129.97 395.96,127.55 393.54,129.97 395.96,132.40 393.54,134.83" fill="#ff0000" stroke="#ff0000" stroke-width="1.1" stroke-linejoin="miter"/><polygon points="425.79,151.55 428.22,149.12 430.64,151.55 433.07,149.12 430.64,146.70 433.07,144.27 430.64,141.85 428.22,144.27 425.79,141.85 423.37,144.27 425.79,146.70 423.37,149.12" fill="#ff0000" stroke="#ff0000" stroke-width="1.1" stroke-linejoin="miter"/><polygon points="446.96,162.65 449.38,160.23 451.81,162.65 454.23,160.23 451.81,157.80 454.23,155.38 451.81,152.95 449.38,155.38 446.96,152.95 444.53,155.38 446.96,157.80 444.53,160.23" fill="#ff0000" stroke="#ff0000" stroke-width="1.1" stroke-linejoin="miter"/><polygon points="463.38,169.85 465.80,167.43 468.23,169.85 470.65,167.43 468.23,165.00 470.65,162.57 468.23,160.15 465.80,162.57 463.38,160.15 460.95,162.57 463.38,165.00 460.95,167.43" fill="#ff0000" stroke="#ff0000" stroke-width="1.1" stroke-linejoin="miter"/><polygon points="514.37,192.65 516.79,190.23 519.22,192.65 521.64,190.23 519.22,187.80 521.64,185.38 519.22,182.95 516.79,185.38 514.37,182.95 511.94,185.38 514.37,187.80 511.94,190.23" fill="#ff0000" stroke="#ff0000" stroke-width="1.1" stroke-linejoin="miter"/><polygon points="565.36,217.85 567.79,215.43 570.21,217.85 572.64,215.43 570.21,213.00 572.64,210.57 570.21,208.15 567.79,210.57 565.36,208.15 562.94,210.57 565.36,213.00 562.94,215.43" fill="#ff0000" stroke="#ff0000" stroke-width="1.1" stroke-linejoin="miter"/><polygon points="595.19,233.35 597.62,230.93 600.04,233.35 602.47,230.93 600.04,228.50 602.47,226.07 600.04,223.65 597.62,226.07 595.19,223.65 592.77,226.07 595.19,228.50 592.77,230.93" fill="#ff0000" stroke="#ff0000" stroke-width="1.1" stroke-linejoin="miter"/><polygon points="616.36,245.85 618.78,243.43 621.21,245.85 623.63,243.43 621.21,241.00 623.63,238.57 621.21,236.15 618.78,238.57 616.36,236.15 613.93,238.57 616.36,241.00 613.93,243.43" fill="#ff0000" stroke="#ff0000" stroke-width="1.1" stroke-linejoin="miter"/><polygon points="632.78,256.15 635.20,253.73 637.62,256.15 640.05,253.73 637.62,251.30 640.05,248.88 637.62,246.45 635.20,248.88 632.78,246.45 630.35,248.88 632.78,251.30 630.35,253.73" fill="#ff0000" stroke="#ff0000" stroke-width="1.1" stroke-linejoin="miter"/></g>
<g><polyline fill="none" stroke="#ff6060" stroke-width="1.4" stroke-linejoin="round" points="110.58,89.60 127.00,98.40 177.99,106.40 228.99,128.30 258.82,127.40 279.98,135.00 296.40,137.50 347.39,160.70 398.39,180.00 428.22,193.30 449.38,197.70 465.80,208.40 516.79,229.90 567.79,258.60 597.62,273.50 618.78,285.30"/><polygon points="110.58,85.19 111.57,88.24 114.78,88.24 112.19,90.12 113.18,93.17 110.58,91.29 107.99,93.17 108.98,90.12 106.39,88.24 109.59,88.24" fill="#ff6060" stroke="#ff6060" stroke-width="1.5" stroke-linejoin="bevel"/><polygon points="127.00,93.99 127.99,97.04 131.20,97.04 128.60,98.92 129.59,101.97 127.00,100.09 124.41,101.97 125.40,98.92 122.80,97.04 126.01,97.04" fill="#ff6060" stroke="#ff6060" stroke-width="1.5" stroke-linejoin="bevel"/><polygon points="177.99,101.99 178.99,105.04 182.19,105.04 179.60,106.92 180.59,109.97 177.99,108.09 175.40,109.97 176.39,106.92 173.80,105.04 177.00,105.04" fill="#ff6060" stroke="#ff6060" stroke-width="1.5" stroke-linejoin="bevel"/><polygon points="228.99,123.89 229.98,126.94 233.19,126.94 230.59,128.82 231.58,131.87 228.99,129.99 226.39,131.87 227.39,128.82 224.79,126.94 228.00,126.94" fill="#ff6060" stroke="#ff6060" stroke-width="1.5" stroke-linejoin="bevel"/><polygon points="258.82,122.99 259.81,126.04 263.02,126.04 260.42,127.92 261.41,130.97 258.82,129.09 256.22,130.97 257.22,127.92 254.62,126.04 257.83,126.04" fill="#ff6060" stroke="#ff6060" stroke-width="1.5" stroke-linejoin="bevel"/><polygon points="279.98,130.59 280.97,133.64 284.18,133.64 281.59,135.52 282.58,138.57 279.98,136.69 277.39,138.57 278.38,135.52 275.79,133.64 278.99,133.64" fill="#ff6060" stroke="#ff6060" stroke-width="1.5" stroke-linejoin="bevel"/><polygon points="296.40,133.09 297.39,136.14 300.60,136.14 298.00,138.02 298.99,141.07 296.40,139.19 293.81,141.07 294.80,138.02 292.20,136.14 295.41,136.14" fill="#ff6060" stroke="#ff6060" stroke-width="1.5" stroke-linejoin="bevel"/><polygon points="347.39,156.29 348.39,159.34 351.59,159.34 349.00,161.22 349.99,164.27 347.39,162.39 344.80,164.27 345.79,161.22 343.20,159.34 346.40,159.34" fill="#ff6060" stroke="#ff6060" stroke-width="1.5" stroke-linejoin="bevel"/><polygon points="398.39,175.59 399.38,178.64 402.59,178.64 399.99,180.52 400.98,183.57 398.39,181.69 395.79,183.57 396.79,180.52 394.19,178.64 397.40,178.64" fill="#ff6060" stroke="#ff6060" stroke-width="1.5" stroke-linejoin="bevel"/><polygon points="428.22,188.89 429.21,191.94 432.42,191.94 429.82,193.82 430.81,196.87 428.22,194.99 425.62,196.87 426.62,193.82 424.02,191.94 427.23,191.94" fill="#ff6060" stroke="#ff6060" stroke-width="1.5" stroke-linejoin="bevel"/><polygon points="449.38,193.29 450.37,196.34 453.58,196.34 450.99,198.22 451.98,201.27 449.38,199.39 446.79,201.27 447.78,198.22 445.19,196.34 448.39,196.34" fill="#ff6060" stroke="#ff6060" stroke-width="1.5" stroke-linejoin="bevel"/><polygon points="465.80,203.99 466.79,207.04 470.00,207.04 467.40,208.92 468.39,211.97 465.80,210.09 463.21,211.97 464.20,208.92 461.60,207.04 464.81,207.04" fill="#ff6060" stroke="#ff6060" stroke-width="1.5" stroke-linejoin="bevel"/><polygon points="516.79,225.49 517.79,228.54 520.99,228.54 518.40,230.42 519.39,233.47 516.79,231.59 514.20,233.47 515.19,230.42 512.60,228.54 515.80,228.54" fill="#ff6060" stroke="#ff6060" stroke-width="1.5" stroke-linejoin="bevel"/><polygon points="567.79,254.19 568.78,257.24 571.99,257.24 569.39,259.12 570.38,262.17 567.79,260.29 565.19,262.17 566.19,259.12 563.59,257.24 566.80,257.24" fill="#ff6060" stroke="#ff6060" stroke-width="1.5" stroke-linejoin="bevel"/><polygon points="597.62,269.09 598.61,272.14 601.82,272.14 599.22,274.02 600.21,277.07 597.62,275.19 595.02,277.07 596.02,274.02 593.42,272.14 596.63,272.14" fill="#ff6060" stroke="#ff6060" stroke-width="1.5" stroke-linejoin="bevel"/><polygon points="618.78,280.89 619.77,283.94 622.98,283.94 620.39,285.82 621.38,288.87 618.78,286.99 616.19,288.87 617.18,285.82 614.59,283.94 617.79,283.94" fill="#ff6060" stroke="#ff6060" stroke-width="1.5" stroke-linejoin="bevel"/></g>
<g><polyline fill="none" stroke="#ffa6a6" stroke-width="1.4" stroke-linejoin="round" points="110.58,159.30 127.00,165.90 177.99,177.80 228.99,191.40 258.82,200.70 279.98,209.60 296.40,218.50 347.39,235.80 398.39,255.10 428.22,267.60 449.38,280.10 465.80,287.00 516.79,311.40"/><polygon points="110.58,154.45 114.78,156.88 114.78,161.73 110.58,164.15 106.38,161.73 106.38,156.88" fill="#ffa6a6" stroke="#ffa6a6" stroke-width="0.7" stroke-linejoin="miter"/><polygon points="127.00,161.05 131.20,163.47 131.20,168.33 127.00,170.75 122.80,168.33 122.80,163.47" fill="#ffa6a6" stroke="#ffa6a6" stroke-width="0.7" stroke-linejoin="miter"/><polygon points="177.99,172.95 182.19,175.38 182.19,180.23 177.99,182.65 173.79,180.23 173.79,175.38" fill="#ffa6a6" stroke="#ffa6a6" stroke-width="0.7" stroke-linejoin="miter"/><polygon points="228.99,186.55 233.19,188.97 233.19,193.83 228.99,196.25 224.79,193.83 224.79,188.97" fill="#ffa6a6" stroke="#ffa6a6" stroke-width="0.7" stroke-linejoin="miter"/><polygon points="258.82,195.85 263.02,198.27 263.02,203.12 258.82,205.55 254.62,203.12 254.62,198.27" fill="#ffa6a6" stroke="#ffa6a6" stroke-width="0.7" stroke-linejoin="miter"/><polygon points="279.98,204.75 284.18,207.17 284.18,212.03 279.98,214.45 275.78,212.03 275.78,207.17" fill="#ffa6a6" stroke="#ffa6a6" stroke-width="0.7" stroke-linejoin="miter"/><polygon points="296.40,213.65 300.60,216.07 300.60,220.93 296.40,223.35 292.20,220.93 292.20,216.07" fill="#ffa6a6" stroke="#ffa6a6" stroke-width="0.7" stroke-linejoin="miter"/><polygon points="347.39,230.95 351.59,233.38 351.59,238.23 347.39,240.65 343.19,238.23 343.19,233.38" fill="#ffa6a6" stroke="#ffa6a6" stroke-width="0.7" stroke-linejoin="miter"/><polygon points="398.39,250.25 402.59,252.67 402.59,257.52 398.39,259.95 394.19,257.52 394.19,252.67" fill="#ffa6a6" stroke="#ffa6a6" stroke-width="0.7" stroke-linejoin="miter"/><polygon points="428.22,262.75 432.42,265.18 432.42,270.03 428.22,272.45 424.02,270.03 424.02,265.18" fill="#ffa6a6" stroke="#ffa6a6" stroke-width="0.7" stroke-linejoin="miter"/><polygon points="449.38,275.25 453.58,277.68 453.58,282.53 449.38,284.95 445.18,282.53 445.18,277.68" fill="#ffa6a6" stroke="#ffa6a6" stroke-width="0.7" stroke-linejoin="miter"/><polygon points="465.80,282.15 470.00,284.57 470.00,289.43 465.80,291.85 461.60,289.43 461.60,284.57" fill="#ffa6a6" stroke="#ffa6a6" stroke-width="0.7" stroke-linejoin="miter"/><polygon points="516.79,306.55 520.99,308.97 520.99,313.82 516.79,316.25 512.59,313.82 512.59,308.97" fill="#ffa6a6" stroke="#ffa6a6" stroke-width="0.7" stroke-linejoin="miter"/></g>
</g>
<path d="M89.42 442.50v-4.80M89.42 12.70v4.80M100.76 442.50v-4.80M100.76 12.70v4.80M110.58 442.50v-4.80M110.58 12.70v4.80M119.25 442.50v-4.80M119.25 12.70v4.80M127.00 442.50v-9.60M127.00 12.70v9.60M177.99 442.50v-4.80M177.99 12.70v4.80M207.82 442.50v-4.80M207.82 12.70v4.80M228.99 442.50v-4.80M228.99 12.70v4.80M245.41 442.50v-4.80M245.41 12.70v4.80M258.82 442.50v-4.80M258.82 12.70v4.80M270.16 442.50v-4.80M270.16 12.70v4.80M279.98 442.50v-4.80M279.98 12.70v4.80M288.65 442.50v-4.80M288.65 12.70v4.80M296.40 442.50v-9.60M296.40 12.70v9.60M347.39 442.50v-4.80M347.39 12.70v4.80M377.22 442.50v-4.80M377.22 12.70v4.80M398.39 442.50v-4.80M398.39 12.70v4.80M414.81 442.50v-4.80M414.81 12.70v4.80M428.22 442.50v-4.80M428.22 12.70v4.80M439.56 442.50v-4.80M439.56 12.70v4.80M449.38 442.50v-4.80M449.38 12.70v4.80M458.05 442.50v-4.80M458.05 12.70v4.80M465.80 442.50v-9.60M465.80 12.70v9.60M516.79 442.50v-4.80M516.79 12.70v4.80M546.62 442.50v-4.80M546.62 12.70v4.80M567.79 442.50v-4.80M567.79 12.70v4.80M584.21 442.50v-4.80M584.21 12.70v4.80M597.62 442.50v-4.80M597.62 12.70v4.80M608.96 442.50v-4.80M608.96 12.70v4.80M618.78 442.50v-4.80M618.78 12.70v4.80M627.45 442.50v-4.80M627.45 12.70v4.80M635.20 442.50v-9.60M635.20 12.70v9.60M84.50 443.30h9.60M661.50 443.30h-9.60M84.50 425.08h4.80M661.50 425.08h-4.80M84.50 414.42h4.80M661.50 414.42h-4.80M84.50 406.86h4.80M661.50 406.86h-4.80M84.50 400.99h4.80M661.50 400.99h-4.80M84.50 396.20h4.80M661.50 396.20h-4.80M84.50 392.15h4.80M661.50 392.15h-4.80M84.50 388.64h4.80M661.50 388.64h-4.80M84.50 385.54h4.80M661.50 385.54h-4.80M84.50 382.77h9.60M661.50 382.77h-9.60M84.50 364.55h4.80M661.50 364.55h-4.80M84.50 353.89h4.80M661.50 353.89h-4.80M84.50 346.33h4.80M661.50 346.33h-4.80M84.50 340.46h4.80M661.50 340.46h-4.80M84.50 335.67h4.80M661.50 335.67h-4.80M84.50 331.62h4.80M661.50 331.62h-4.80M84.50 328.11h4.80M661.50 328.11h-4.80M84.50 325.01h4.80M661.50 325.01h-4.80M84.50 322.24h9.60M661.50 322.24h-9.60M84.50 304.02h4.80M661.50 304.02h-4.80M84.50 293.36h4.80M661.50 293.36h-4.80M84.50 285.80h4.80M661.50 285.80h-4.80M84.50 279.93h4.80M661.50 279.93h-4.80M84.50 275.14h4.80M661.50 275.14h-4.80M84.50 271.09h4.80M661.50 271.09h-4.80M84.50 267.58h4.80M661.50 267.58h-4.80M84.50 264.48h4.80M661.50 264.48h-4.80M84.50 261.71h9.60M661.50 261.71h-9.60M84.50 243.49h4.80M661.50 243.49h-4.80M84.50 232.83h4.80M661.50 232.83h-4.80M84.50 225.27h4.80M661.50 225.27h-4.80M84.50 219.40h4.80M661.50 219.40h-4.80M84.50 214.61h4.80M661.50 214.61h-4.80M84.50 210.56h4.80M661.50 210.56h-4.80M84.50 207.05h4.80M661.50 207.05h-4.80M84.50 203.95h4.80M661.50 203.95h-4.80M84.50 201.18h9.60M661.50 201.18h-9.60M84.50 182.96h4.80M661.50 182.96h-4.80M84.50 172.30h4.80M661.50 172.30h-4.80M84.50 164.74h4.80M661.50 164.74h-4.80M84.50 158.87h4.80M661.50 158.87h-4.80M84.50 154.08h4.80M661.50 154.08h-4.80M84.50 150.03h4.80M661.50 150.03h-4.80M84.50 146.52h4.80M661.50 146.52h-4.80M84.50 143.42h4.80M661.50 143.42h-4.80M84.50 140.65h9.60M661.50 140.65h-9.60M84.50 122.43h4.80M661.50 122.43h-4.80M84.50 111.77h4.80M661.50 111.77h-4.80M84.50 104.21h4.80M661.50 104.21h-4.80M84.50 98.34h4.80M661.50 98.34h-4.80M84.50 93.55h4.80M661.50 93.55h-4.80M84.50 89.50h4.80M661.50 89.50h-4.80M84.50 85.99h4.80M661.50 85.99h-4.80M84.50 82.89h4.80M661.50 82.89h-4.80M84.50 80.12h9.60M661.50 80.12h-9.60M84.50 61.90h4.80M661.50 61.90h-4.80M84.50 51.24h4.80M661.50 51.24h-4.80M84.50 43.68h4.80M661.50 43.68h-4.80M84.50 37.81h4.80M661.50 37.81h-4.80M84.50 33.02h4.80M661.50 33.02h-4.80M84.50 28.97h4.80M661.50 28.97h-4.80M84.50 25.46h4.80M661.50 25.46h-4.80M84.50 22.36h4.80M661.50 22.36h-4.80M84.50 19.59h9.60M661.50 19.59h-9.60" stroke="#000" stroke-width="0.9" fill="none"/>
<rect x="84.50" y="12.70" width="577.00" height="429.80" fill="none" stroke="#000" stroke-width="1.4"/>
<g font-family="Liberation Sans, sans-serif" fill="#000" stroke="#000" stroke-width="0.35">
<text x="67.6" y="451.30" font-size="22.9" text-anchor="end" textLength="25.6" lengthAdjust="spacingAndGlyphs">10</text>
<text x="69.3" y="443.70" font-size="15.2" textLength="8.0" lengthAdjust="spacingAndGlyphs">0</text>
<text x="67.6" y="390.77" font-size="22.9" text-anchor="end" textLength="25.6" lengthAdjust="spacingAndGlyphs">10</text>
<text x="69.3" y="383.17" font-size="15.2" textLength="8.0" lengthAdjust="spacingAndGlyphs">1</text>
<text x="67.6" y="330.24" font-size="22.9" text-anchor="end" textLength="25.6" lengthAdjust="spacingAndGlyphs">10</text>
<text x="69.3" y="322.64" font-size="15.2" textLength="8.0" lengthAdjust="spacingAndGlyphs">2</text>
<text x="67.6" y="269.71" font-size="22.9" text-anchor="end" textLength="25.6" lengthAdjust="spacingAndGlyphs">10</text>
<text x="69.3" y="262.11" font-size="15.2" textLength="8.0" lengthAdjust="spacingAndGlyphs">3</text>
<text x="67.6" y="209.18" font-size="22.9" text-anchor="end" textLength="25.6" lengthAdjust="spacingAndGlyphs">10</text>
<text x="69.3" y="201.58" font-size="15.2" textLength="8.0" lengthAdjust="spacingAndGlyphs">4</text>
<text x="67.6" y="148.65" font-size="22.9" text-anchor="end" textLength="25.6" lengthAdjust="spacingAndGlyphs">10</text>
<text x="69.3" y="141.05" font-size="15.2" textLength="8.0" lengthAdjust="spacingAndGlyphs">5</text>
<text x="67.6" y="88.12" font-size="22.9" text-anchor="end" textLength="25.6" lengthAdjust="spacingAndGlyphs">10</text>
<text x="69.3" y="80.52" font-size="15.2" textLength="8.0" lengthAdjust="spacingAndGlyphs">6</text>
<text x="67.6" y="27.59" font-size="22.9" text-anchor="end" textLength="25.6" lengthAdjust="spacingAndGlyphs">10</text>
<text x="69.3" y="19.99" font-size="15.2" textLength="8.0" lengthAdjust="spacingAndGlyphs">7</text>
<text x="134.30" y="464.7" font-size="22.9" text-anchor="end" textLength="25.6" lengthAdjust="spacingAndGlyphs">10</text>
<text x="136.20" y="456.8" font-size="15.2" textLength="8.0" lengthAdjust="spacingAndGlyphs">0</text>
<text x="303.70" y="464.7" font-size="22.9" text-anchor="end" textLength="25.6" lengthAdjust="spacingAndGlyphs">10</text>
<text x="305.60" y="456.8" font-size="15.2" textLength="8.0" lengthAdjust="spacingAndGlyphs">1</text>
<text x="473.10" y="464.7" font-size="22.9" text-anchor="end" textLength="25.6" lengthAdjust="spacingAndGlyphs">10</text>
<text x="475.00" y="456.8" font-size="15.2" textLength="8.0" lengthAdjust="spacingAndGlyphs">2</text>
<text x="642.50" y="464.7" font-size="22.9" text-anchor="end" textLength="25.6" lengthAdjust="spacingAndGlyphs">10</text>
<text x="644.40" y="456.8" font-size="15.2" textLength="8.0" lengthAdjust="spacingAndGlyphs">3</text>
<text x="372.6" y="494.4" font-size="24.6" text-anchor="middle">Wi</text>
<text x="621.4" y="47.3" font-size="24" text-anchor="middle" textLength="33.5" lengthAdjust="spacingAndGlyphs">(d)</text>
<g transform="translate(28,240.3) rotate(-90)"><text x="0" y="0" font-size="21" font-style="italic" transform="scale(1.12,1)">ψ</text><text x="16.2" y="2.5" font-size="16.5">1</text></g>
</g>
</svg>
</body></html>
